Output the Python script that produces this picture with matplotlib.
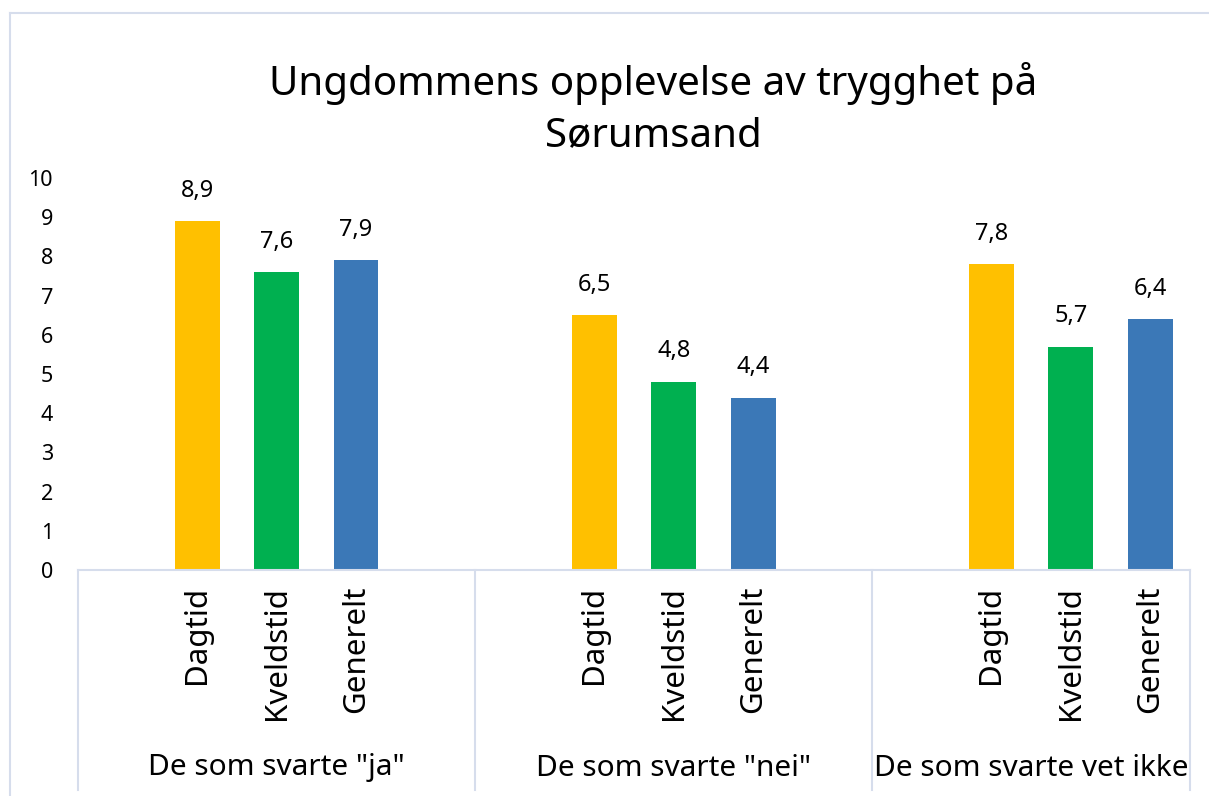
import matplotlib
matplotlib.use("Agg")
import matplotlib.pyplot as plt
from matplotlib.lines import Line2D
import numpy as np

plt.rcParams['font.family'] = ['Noto Sans', 'DejaVu Sans']

groups = ['De som svarte "ja"', 'De som svarte "nei"', 'De som svarte vet ikke']
series = ['Dagtid', 'Kveldstid', 'Generelt']
dagtid = [8.9, 6.5, 7.8]
kveldstid = [7.6, 4.8, 5.7]
generelt = [7.9, 4.4, 6.4]
colors = ['#FFC000', '#00B050', '#3B78B7']
title = 'Ungdommens opplevelse av trygghet på\nSørumsand'

W, H = 1209, 796
fig = plt.figure(figsize=(W / 100, H / 100), dpi=100)
ax = fig.add_axes([78 / W, (H - 570) / H, (1190 - 78) / W, (570 - 178) / H])

grid_col = '#D6DDEC'
offsets = [-0.2, 0.0, 0.2]
bw = 0.113
x = np.arange(len(groups))
for vals, off, col, name in zip([dagtid, kveldstid, generelt], offsets, colors, series):
    bars = ax.bar(x + off, vals, width=bw, color=col, zorder=2)
    for b, v in zip(bars, vals):
        ax.text(b.get_x() + b.get_width() / 2, v + 0.78, f'{v:.1f}'.replace('.', ','),
                ha='center', va='center', fontsize=17)
    for xi in x:
        ax.text(xi + off, -0.4, name, rotation=90, ha='center', va='top', fontsize=22.5)

xr = 2.30
ax.set_xlim(-0.5, xr)
ax.set_ylim(0, 10)
ax.set_yticks(range(0, 11))
ax.tick_params(axis='y', length=0, labelsize=15.5, pad=18)
ax.set_xticks([])
for s in ax.spines.values():
    s.set_visible(False)

# category axis line and separators
ax.plot([-0.5, xr], [0, 0], color=grid_col, lw=1.5, clip_on=False, zorder=3)
trans = ax.get_xaxis_transform()
ybot = ((H - 790) / H - (H - 570) / H) / ((570 - 178) / H)
for xs in [-0.5, 0.5, 1.5, xr]:
    ax.plot([xs, xs], [0, ybot], color=grid_col, lw=1.5, transform=trans, clip_on=False)

# group labels
centers = [0, 1, (1.5 + xr) / 2]
ylab = ((H - 768) / H - (H - 570) / H) / ((570 - 178) / H)
for c, g in zip(centers, groups):
    ax.text(c, ylab, g, ha='center', va='center', fontsize=21.5, transform=trans)

# outer chart frame
fig.add_artist(Line2D([10 / W, 10 / W], [0, 1 - 13 / H], color=grid_col, lw=1.5))
fig.add_artist(Line2D([10 / W, 1], [1 - 13 / H, 1 - 13 / H], color=grid_col, lw=1.5))

fig.text(653 / W, 1 - 109 / H, title, ha='center', va='center', fontsize=29, linespacing=1.35)

fig.savefig('out.png', dpi=100)
